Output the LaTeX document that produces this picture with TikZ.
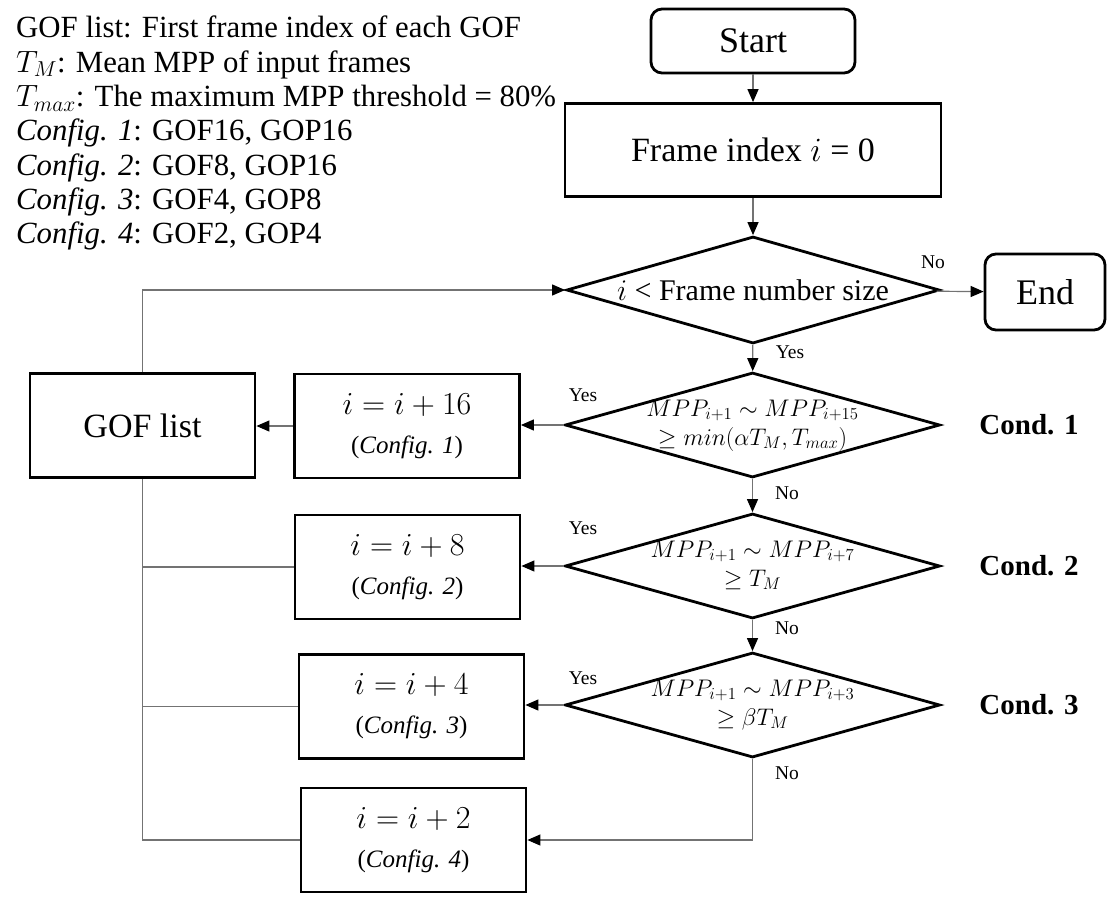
\documentclass[tikz,border=0pt]{standalone}
\usepackage{fix-cm}
\usepackage{fontspec}
\setmainfont{Liberation Serif}
\usetikzlibrary{shapes.geometric,arrows.meta}
\newcommand{\fsz}[2]{\fontsize{#1}{#2}\selectfont}

\begin{document}
\begin{tikzpicture}[x=1pt, y=-1pt]
    \tikzset{ln/.style={draw=black!55, line width=1.2pt},
             ar/.style={ln, -{Triangle[length=13pt, width=11pt, color=black]}},
             box/.style={draw, line width=2.8pt, minimum width=225pt, minimum height=104pt,
                         inner sep=0pt, align=center},
             term/.style={box, rounded corners=11pt},
             cond/.style={draw, diamond, line width=2.8pt, minimum width=375pt,
                          minimum height=105pt, inner sep=0pt, font=\fsz{24}{29}},
             lbl/.style={font=\fsz{19.5}{22}}}
    \useasboundingbox (0,0) rectangle (1115,913);
    % legend
    \node[anchor=north west, align=left, inner sep=0pt, font=\fsz{30.8}{34.3}] (leg) at (16,16)
      {GOF list: First frame index of each GOF\\
       $T_M$: Mean MPP of input frames\\
       $T_{max}$: The maximum MPP threshold = 80\%\\
       \textit{Config. 1}: GOF16, GOP16\\
       \textit{Config. 2}: GOF8, GOP16\\
       \textit{Config. 3}: GOF4, GOP8\\
       \textit{Config. 4}: GOF2, GOP4};
    % main column
    \node[term, minimum width=204pt, minimum height=64pt, font=\fsz{36}{40}] (start) at (753,41) {Start};
    \node[box, minimum width=376pt, minimum height=93pt, font=\fsz{34}{38}] (init) at (753,150) {Frame index $i$ = 0};
    \node[cond, minimum width=373pt, minimum height=107pt, font=\fsz{30}{34}] (c0) at (753,290)
      {\makebox[0pt]{$i$ < Frame number size}};
    \node[term, minimum width=120pt, minimum height=76pt, font=\fsz{36}{40}] (end) at (1045,292) {End};
    \foreach \k/\y/\m/\r in {1/425/15/{min(\alpha T_M, T_{max})}, 2/566/7/T_M, 3/705/3/\beta T_M} {
      \node[cond] (c\k) at (752.5,\y)
        {\makebox[0pt]{$\begin{array}{c} MPP_{i+1}\sim MPP_{i+\m}\\ \ge \r \end{array}$}};
      \node[font=\bfseries\fsz{29}{32}] (cl\k) at (1029,\y) {Cond. \k};
    }
    % left column
    \node[box, font=\fsz{34}{38}] (gof) at (142.5,425.5) {GOF list};
    \foreach \n/\x/\y/\k in {16/407/426/1, 8/407.5/567/2, 4/411.5/706.5/3, 2/413.5/840/4} {
      \node[box, font=\fsz{25}{39}] (b\n) at (\x,\y) {\fsz{32}{39}$i = i + \n$\\(\textit{Config. \k})};
    }
    % connectors
    \draw[ar] (start) -- (init);
    \draw[ar] (init) -- (c0);
    \draw[ar] (c0) -- (end);
    \draw[ar] (c0) -- (c1);
    \draw[ar] (c1) -- (c2);
    \draw[ar] (c2) -- (c3);
    \draw[ar] (c1.west) -- (c1.west -| b16.east);
    \draw[ar] (c2.west) -- (c2.west -| b8.east);
    \draw[ar] (c3.west) -- (c3.west -| b4.east);
    \draw[ar] (c3.south) |- (b2.east);
    \draw[ar] (b16.west) -- (b16.west -| gof.east);
    \draw[ar] (gof.north) |- (c0.west);
    \draw[ln] (gof.south) |- (b2.west);
    \draw[ln] (gof.south |- b8.west) -- (b8.west);
    \draw[ln] (gof.south |- b4.west) -- (b4.west);
    % yes / no
    \node[lbl] (no0) at (933,262) {No};
    \node[lbl] (yes0) at (790,352) {Yes};
    \foreach \k/\a/\b in {1/395/493, 2/528/628, 3/678/773} {
      \node[lbl] (yes\k) at (583,\a) {Yes};
      \node[lbl] (no\k) at (787,\b) {No};
    }
  \end{tikzpicture}
\end{document}
